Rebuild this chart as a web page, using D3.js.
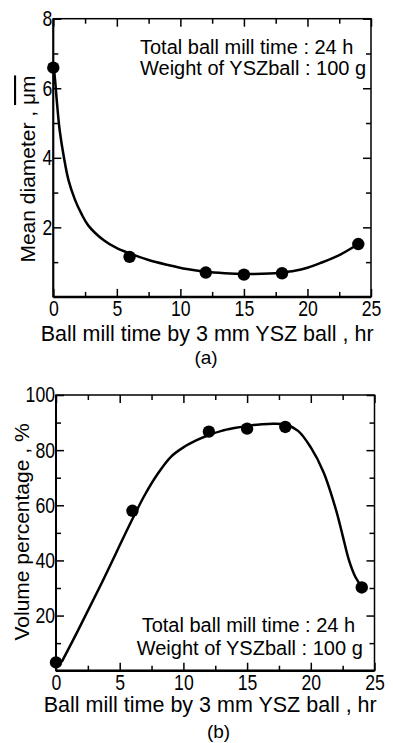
<!DOCTYPE html>
<html>
<head>
<meta charset="utf-8">
<script src="https://cdn.jsdelivr.net/npm/d3@7"></script>
<style>
  html, body { margin: 0; padding: 0; background: #fff; }
  svg { display: block; font-family: "Liberation Sans", Arial, sans-serif; }
</style>
</head>
<body>
<div id="chart"></div>
<script>
// (a) mean diameter vs mill time
const timeA = [0, 6, 12, 15, 18, 24];
const diamA = [6.59, 1.15, 0.70, 0.64, 0.68, 1.52];
const fitTimeA = [0.05, 0.15, 0.27, 0.5, 0.84, 1.2, 1.71, 2.2, 2.76, 4, 5, 6, 7.5, 9, 10.5, 12, 13.5, 15, 17, 18, 19, 20, 21, 22.5, 24];
const fitDiamA = [6.55, 6.2, 5.66, 4.8, 4.0, 3.35, 2.79, 2.4, 2.05, 1.62, 1.4, 1.25, 1.06, 0.92, 0.8, 0.72, 0.68, 0.66, 0.67, 0.7, 0.75, 0.84, 0.97, 1.2, 1.52];

// (b) volume percentage vs mill time
const timeB = [0, 6, 12, 15, 18, 24];
const volB = [3, 58, 86.7, 87.8, 88.4, 30.2];
const fitTimeB = [0.45, 1.75, 3.5, 6, 7, 8, 9, 10, 11, 12, 13, 14, 15, 16, 17, 18, 19, 20, 21, 22, 22.5, 23, 23.5, 24];
const fitVolB = [3.2, 14.8, 31, 55, 64, 71.5, 77.5, 81, 83.5, 85.5, 87, 88, 88.8, 89.3, 89.6, 89.3, 87, 81, 72, 58, 49, 40, 34, 30.5];

// ticks
const xTicks = [0, 5, 10, 15, 20, 25];
const xMinor = [2.5, 7.5, 12.5, 17.5, 22.5];
const yTicksA = [2, 4, 6, 8];
const yMinorA = [1, 3, 5, 7];
const yTicksB = [20, 40, 60, 80, 100];
const yMinorB = [10, 30, 50, 70, 90];

const noteLines = ['Total ball mill time : 24 h', 'Weight of YSZball : 100 g'];
const xTitle = 'Ball mill time by 3 mm YSZ ball , hr';

const width = 393, height = 743;
const squeeze = 0.82; // tick digits are narrow in the original
const svg = d3.select('#chart').append('svg')
  .attr('width', width)
  .attr('height', height);

function drawPanel(cfg) {
  const x = d3.scaleLinear().domain([0, 25]).range([cfg.left, cfg.right]);
  const y = d3.scaleLinear().domain(cfg.yDomain).range([cfg.bottom, cfg.top]);
  const g = svg.append('g');

  // frame
  g.append('rect')
    .attr('x', cfg.left).attr('y', cfg.top)
    .attr('width', cfg.right - cfg.left).attr('height', cfg.bottom - cfg.top)
    .attr('fill', 'none').attr('stroke', '#000').attr('stroke-width', 1.5);

  const styleAxis = a => {
    a.select('.domain').remove();
    a.selectAll('.tick line').attr('stroke', '#000').attr('stroke-width', 1.5);
    a.selectAll('.tick text').attr('fill', '#000').attr('font-size', 21.5)
      .attr('font-family', '"Liberation Sans", Arial, sans-serif')
      .attr('x', function () { return (+d3.select(this).attr('x') || 0) / squeeze; })
      .attr('transform', `scale(${squeeze},1)`);
  };

  // bottom
  g.append('g').attr('transform', `translate(0,${cfg.bottom})`)
    .call(d3.axisBottom(x).tickValues(xTicks).tickSize(-8).tickPadding(4).tickFormat(d3.format('d')))
    .call(styleAxis);
  g.append('g').attr('transform', `translate(0,${cfg.bottom})`)
    .call(d3.axisBottom(x).tickValues(xMinor).tickSize(-5).tickFormat(''))
    .call(styleAxis);
  // top
  g.append('g').attr('transform', `translate(0,${cfg.top})`)
    .call(d3.axisTop(x).tickValues(xTicks).tickSize(-8).tickFormat(''))
    .call(styleAxis);
  g.append('g').attr('transform', `translate(0,${cfg.top})`)
    .call(d3.axisTop(x).tickValues(xMinor).tickSize(-5).tickFormat(''))
    .call(styleAxis);
  // left
  g.append('g').attr('transform', `translate(${cfg.left},0)`)
    .call(d3.axisLeft(y).tickValues(cfg.yTicks).tickSize(-8).tickPadding(1).tickFormat(d3.format('d')))
    .call(styleAxis);
  g.append('g').attr('transform', `translate(${cfg.left},0)`)
    .call(d3.axisLeft(y).tickValues(cfg.yMinor).tickSize(-5).tickFormat(''))
    .call(styleAxis);
  // right
  g.append('g').attr('transform', `translate(${cfg.right},0)`)
    .call(d3.axisRight(y).tickValues(cfg.yTicks).tickSize(-8).tickFormat(''))
    .call(styleAxis);
  g.append('g').attr('transform', `translate(${cfg.right},0)`)
    .call(d3.axisRight(y).tickValues(cfg.yMinor).tickSize(-5).tickFormat(''))
    .call(styleAxis);

  // thicker left/bottom spines
  g.append('line').attr('x1', cfg.left).attr('x2', cfg.right)
    .attr('y1', cfg.bottom).attr('y2', cfg.bottom)
    .attr('stroke', '#000').attr('stroke-width', 2.5);
  g.append('line').attr('x1', cfg.left).attr('x2', cfg.left)
    .attr('y1', cfg.top).attr('y2', cfg.bottom)
    .attr('stroke', '#000').attr('stroke-width', 2);

  // fitted curve
  const line = d3.line()
    .x(d => x(d[0])).y(d => y(d[1]))
    .curve(d3.curveCatmullRom.alpha(0.5));
  g.append('path')
    .datum(cfg.fitX.map((t, i) => [t, cfg.fitY[i]]))
    .attr('d', line)
    .attr('fill', 'none').attr('stroke', '#000').attr('stroke-width', 2.5);

  // points
  g.selectAll('circle.pt')
    .data(cfg.px.map((t, i) => [t, cfg.py[i]]))
    .join('circle')
    .attr('class', 'pt')
    .attr('cx', d => x(d[0])).attr('cy', d => y(d[1]))
    .attr('r', 6.2).attr('fill', '#000');

  // note
  g.selectAll('text.note')
    .data(noteLines)
    .join('text')
    .attr('class', 'note')
    .attr('x', (d, i) => cfg.noteX[i])
    .attr('y', (d, i) => cfg.noteY[i])
    .attr('font-size', 20)
    .attr('fill', '#000')
    .text(d => d);

  // x title
  g.append('text')
    .attr('x', (cfg.left + cfg.right) / 2 - 5)
    .attr('y', cfg.xTitleY)
    .attr('text-anchor', 'middle')
    .attr('font-size', 21.5)
    .attr('fill', '#000')
    .text(xTitle);

  // panel tag
  g.append('text')
    .attr('x', cfg.tagX)
    .attr('y', cfg.tagY)
    .attr('text-anchor', 'middle')
    .attr('font-size', 19)
    .attr('fill', '#000')
    .text(cfg.tag);

  // y title
  const yt = g.append('text')
    .attr('transform', `translate(${cfg.yTitleX},${cfg.yTitleY}) rotate(-90)`)
    .attr('text-anchor', 'middle')
    .attr('font-size', 21)
    .attr('fill', '#000');
  yt.append('tspan').text(cfg.yTitle);
  if (cfg.yUnit) {
    yt.append('tspan').attr('text-decoration', 'overline').text(cfg.yUnit);
  }
}

drawPanel({
  left: 53.3, right: 371, top: 18.7, bottom: 296.9,
  yDomain: [0, 8], yTicks: yTicksA, yMinor: yMinorA,
  px: timeA, py: diamA, fitX: fitTimeA, fitY: fitDiamA,
  noteX: [140, 140], noteY: [54, 75],
  xTitleY: 340.5, tagX: 206, tagY: 364, tag: '(a)',
  yTitleX: 35, yTitleY: 169, yTitle: 'Mean diameter , ', yUnit: 'μm'
});

drawPanel({
  left: 56, right: 374.5, top: 395, bottom: 670.7,
  yDomain: [0, 100], yTicks: yTicksB, yMinor: yMinorB,
  px: timeB, py: volB, fitX: fitTimeB, fitY: fitVolB,
  noteX: [141.7, 136.7], noteY: [631.7, 655],
  xTitleY: 712, tagX: 218.5, tagY: 738, tag: '(b)',
  yTitleX: 29, yTitleY: 532, yTitle: 'Volume percentage , %', yUnit: null
});
</script>
</body>
</html>
